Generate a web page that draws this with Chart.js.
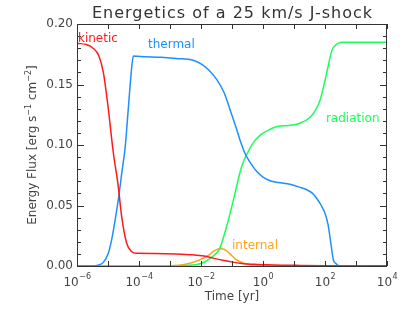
<!DOCTYPE html>
<html lang="en">
<head>
<meta charset="UTF-8">
<title>Energetics of a 25 km/s J-shock</title>
<script src="https://cdn.jsdelivr.net/npm/chart.js"></script>
<style>
  html, body { margin: 0; padding: 0; background: #fff; }
  #wrap { width: 411px; height: 316px; }
</style>
</head>
<body>
<div id="wrap"><canvas id="grafico" width="411" height="316"></canvas></div>
<script>
// x values are log10(time / yr)
const kineticLogT = [-6, -5.7, -5.48, -5.3, -5.15, -5.0, -4.83, -4.67, -4.56, -4.4, -4.24, -4.07, -3.5, -2.8, -2.25, -1.9, -1.61, -1.3, -0.97, -0.74, -0.5, -0.2, 0.12, 0.6, 1.2, 2.0, 3.0, 4.0];
const kineticFlux = [0.184, 0.183, 0.180, 0.174, 0.160, 0.132, 0.094, 0.066, 0.041, 0.019, 0.012, 0.0105, 0.0104, 0.0100, 0.0092, 0.0082, 0.0065, 0.0048, 0.0032, 0.0023, 0.0017, 0.0013, 0.0010, 0.0007, 0.0005, 0.0003, 0.0001, 0];

const thermalLogT = [-6, -5.5, -5.3, -5.15, -4.99, -4.88, -4.77, -4.65, -4.55, -4.45, -4.37, -4.29, -4.22, -4.18, -3.8, -3.3, -2.8, -2.25, -2.0, -1.75, -1.49, -1.25, -1.06, -0.85, -0.74, -0.58, -0.4, -0.2, 0.0, 0.23, 0.5, 0.87, 1.2, 1.41, 1.6, 1.73, 1.88, 2.0, 2.1, 2.16, 2.22, 2.27, 2.35, 2.48, 3.0, 4.0];
const thermalFlux = [0, 0, 0.0008, 0.003, 0.0105, 0.022, 0.038, 0.058, 0.078, 0.097, 0.122, 0.148, 0.168, 0.1735, 0.173, 0.1725, 0.1715, 0.170, 0.167, 0.162, 0.154, 0.143, 0.129, 0.113, 0.104, 0.093, 0.085, 0.078, 0.0735, 0.0705, 0.069, 0.0675, 0.065, 0.063, 0.060, 0.056, 0.050, 0.0435, 0.034, 0.024, 0.013, 0.005, 0.002, 0, 0, 0];

const radiationLogT = [-6, -3.5, -3.0, -2.5, -2.03, -1.75, -1.49, -1.39, -1.17, -0.96, -0.69, -0.47, -0.31, -0.1, 0.23, 0.5, 0.76, 1.19, 1.52, 1.7, 1.84, 2.05, 2.22, 2.32, 2.54, 4.0];
const radiationFlux = [0, 0, 0, 0.0004, 0.0018, 0.0055, 0.011, 0.015, 0.033, 0.054, 0.082, 0.095, 0.102, 0.108, 0.113, 0.1155, 0.116, 0.118, 0.123, 0.129, 0.137, 0.159, 0.178, 0.182, 0.185, 0.185];

const internalLogT = [-6, -3.5, -3.0, -2.46, -2.2, -1.93, -1.75, -1.6, -1.5, -1.39, -1.28, -1.17, -1.0, -0.85, -0.6, -0.42, -0.1, 4.0];
const internalFlux = [0, 0, 0.0002, 0.0017, 0.0035, 0.0064, 0.009, 0.012, 0.0135, 0.0143, 0.014, 0.0124, 0.0085, 0.005, 0.002, 0.001, 0.0002, 0];

const xTickExps = [-6, -5, -4, -3, -2, -1, 0, 1, 2, 3, 4];
const xLabelExps = [-6, -4, -2, 0, 2, 4];
const yMajorTicks = [0.00, 0.05, 0.10, 0.15, 0.20];
const yMinorTicks = [0.01, 0.02, 0.03, 0.04, 0.06, 0.07, 0.08, 0.09, 0.11, 0.12, 0.13, 0.14, 0.16, 0.17, 0.18, 0.19];

const titleText = 'Energetics of a 25 km/s J-shock';
const xTitle = 'Time [yr]';

const rojo = '#ff1a1a';
const azul = '#1e8fff';
const verde = '#1aff5a';
const laranja = '#ffa31a';
const cinza = '#444444';
const fonte = '"DejaVu Sans", Arial, sans-serif';

function pares(xs, ys) {
  return xs.map((x, i) => ({ x: x, y: ys[i] }));
}

function serie(label, xs, ys, cor) {
  return {
    label: label,
    data: pares(xs, ys),
    borderColor: cor,
    borderWidth: 1.5,
    pointRadius: 0,
    fill: false,
    cubicInterpolationMode: 'monotone'
  };
}

// desenha moldura, ticks, rotulos e textos no estilo IDL
const moldura = {
  id: 'moldura',
  afterDraw(chart) {
    const ctx = chart.ctx;
    const a = chart.chartArea;
    const xs = chart.scales.x;
    const ys = chart.scales.y;
    ctx.save();
    ctx.strokeStyle = '#333';
    ctx.lineWidth = 1;
    ctx.strokeRect(a.left + 0.5, a.top + 0.5, a.right - a.left - 1, a.bottom - a.top);

    ctx.beginPath();
    xTickExps.forEach(e => {
      const px = Math.round(xs.getPixelForValue(e)) + 0.5;
      ctx.moveTo(px, a.bottom); ctx.lineTo(px, a.bottom - 5);
      ctx.moveTo(px, a.top); ctx.lineTo(px, a.top + 5);
    });
    yMajorTicks.forEach(v => {
      const py = Math.round(ys.getPixelForValue(v)) + 0.5;
      ctx.moveTo(a.left, py); ctx.lineTo(a.left + 7, py);
      ctx.moveTo(a.right, py); ctx.lineTo(a.right - 7, py);
    });
    yMinorTicks.forEach(v => {
      const py = Math.round(ys.getPixelForValue(v)) + 0.5;
      ctx.moveTo(a.left, py); ctx.lineTo(a.left + 4, py);
      ctx.moveTo(a.right, py); ctx.lineTo(a.right - 4, py);
    });
    ctx.stroke();

    ctx.fillStyle = cinza;
    ctx.font = '12px ' + fonte;
    ctx.textAlign = 'right';
    ctx.textBaseline = 'middle';
    yMajorTicks.forEach(v => {
      ctx.fillText(v.toFixed(2), a.left - 4, ys.getPixelForValue(v));
    });

    // 10 com expoente
    xLabelExps.forEach(e => {
      const px = xs.getPixelForValue(e);
      const exp = e < 0 ? '\u2212' + Math.abs(e) : String(e);
      ctx.font = '12px ' + fonte;
      const wb = ctx.measureText('10').width;
      ctx.font = '8px ' + fonte;
      const we = ctx.measureText(exp).width;
      const x0 = px - (wb + we) / 2;
      ctx.textAlign = 'left';
      ctx.textBaseline = 'alphabetic';
      ctx.font = '12px ' + fonte;
      ctx.fillText('10', x0, a.bottom + 20);
      ctx.font = '8px ' + fonte;
      ctx.fillText(exp, x0 + wb + 0.5, a.bottom + 13);
    });

    ctx.font = '12px ' + fonte;
    ctx.textAlign = 'center';
    ctx.textBaseline = 'alphabetic';
    ctx.fillText(xTitle, (a.left + a.right) / 2, a.bottom + 34);

    // eixo y rotacionado
    ctx.save();
    ctx.translate(32, (a.top + a.bottom) / 2);
    ctx.rotate(-Math.PI / 2);
    const partes = [['Energy Flux [erg s', 12, 0], ['\u22121', 8, -5], [' cm', 12, 0], ['\u22122', 8, -5], [']', 12, 0]];
    let total = 0;
    partes.forEach(p => { ctx.font = p[1] + 'px ' + fonte; total += ctx.measureText(p[0]).width; });
    let cx = -total / 2;
    ctx.textAlign = 'left';
    partes.forEach(p => {
      ctx.font = p[1] + 'px ' + fonte;
      ctx.fillText(p[0], cx, 4 + p[2]);
      cx += ctx.measureText(p[0]).width;
    });
    ctx.restore();

    ctx.font = '16px ' + fonte;
    ctx.letterSpacing = '1px';
    ctx.textAlign = 'center';
    ctx.fillStyle = '#333';
    ctx.fillText(titleText, (a.left + a.right) / 2 + 0.5, 18);
    ctx.letterSpacing = '0px';

    ctx.font = '12px ' + fonte;
    ctx.textAlign = 'left';
    ctx.fillStyle = rojo;
    ctx.fillText('kinetic', xs.getPixelForValue(-5.97), ys.getPixelForValue(0.185));
    ctx.fillStyle = azul;
    ctx.fillText('thermal', xs.getPixelForValue(-3.71), ys.getPixelForValue(0.180));
    ctx.fillStyle = verde;
    ctx.fillText('radiation', xs.getPixelForValue(2.03), ys.getPixelForValue(0.119));
    ctx.fillStyle = laranja;
    ctx.fillText('internal', xs.getPixelForValue(-1.0), ys.getPixelForValue(0.014));
    ctx.restore();
  }
};

const ctx = document.getElementById('grafico').getContext('2d');
new Chart(ctx, {
  type: 'line',
  data: {
    datasets: [
      serie('kinetic', kineticLogT, kineticFlux, rojo),
      serie('thermal', thermalLogT, thermalFlux, azul),
      serie('radiation', radiationLogT, radiationFlux, verde),
      serie('internal', internalLogT, internalFlux, laranja)
    ]
  },
  options: {
    responsive: false,
    animation: false,
    layout: { padding: { left: 77, top: 24, right: 24, bottom: 50 } },
    scales: {
      x: { type: 'linear', min: -6, max: 4, display: false },
      y: { type: 'linear', min: 0, max: 0.2, display: false }
    },
    plugins: {
      legend: { display: false },
      tooltip: { enabled: false }
    }
  },
  plugins: [moldura]
});
</script>
</body>
</html>
